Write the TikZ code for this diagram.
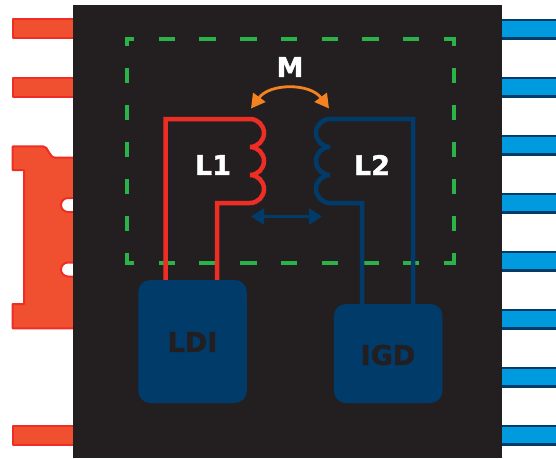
\documentclass[tikz,border=0pt]{standalone}
\usepackage{fontspec}
\setmainfont[BoldFeatures={FakeBold=1.5}]{DejaVu Sans}
\usetikzlibrary{arrows.meta}
\definecolor{bodyc}{HTML}{231F20}
\definecolor{redf}{HTML}{F15030}
\definecolor{redl}{HTML}{EE2E24}
\definecolor{bluef}{HTML}{009ADE}
\definecolor{navy}{HTML}{003B6A}
\definecolor{greenc}{HTML}{2BB34A}
\definecolor{orangec}{HTML}{F58220}
\tikzset{
  leftlead/.style={fill=redf,draw=redl,line width=2pt,line join=round},
  chipbox/.style={fill=navy,rounded corners=12pt,minimum width=108.5pt,inner sep=0pt},
  chiplabel/.style={inner sep=0pt,text=bodyc,font=\bfseries\fontsize{27}{27}\selectfont},
  coillabel/.style={text=white,inner sep=0pt,font=\bfseries\fontsize{27}{27}\selectfont},
  hdash/.style={draw=greenc,line width=4pt,dash pattern=on 16.4pt off 24.3pt,dash phase=7pt},
  vdash/.style={draw=greenc,line width=4pt,dash pattern=on 14.8pt off 22.2pt,dash phase=6pt},
  redwire/.style={draw=redl,line width=4.5pt,line join=miter,miter limit=2},
  navywire/.style={draw=navy,line width=4.5pt,line join=miter,miter limit=2},
  navyarrow/.style={draw=navy,line width=2.5pt,{Triangle[length=13pt,width=16pt]}-{Triangle[length=13pt,width=16pt]}},
  orangearrow/.style={draw=orangec,line width=2.8pt,{Triangle[length=14pt,width=15pt]}-{Triangle[length=14pt,width=15pt]}},
}
\begin{document}
\begin{tikzpicture}[x=1pt,y=-1pt]
\useasboundingbox (0,0) rectangle (556,458);
% left leads
\foreach \y in {19.3,77.7,425.5}{
  \draw[leftlead] (12.7,\y) rectangle (75,\y+19);
}
\draw[leftlead] (12.7,146.3) -- (43,146.3) .. controls (49,146.3) and (48,157.7) .. (56,157.7) -- (75,157.7)
  -- (75,198) -- (68,198) .. controls (64.1,198) and (61,201.1) .. (61,205) .. controls (61,208.9) and (64.1,212) .. (68,212) -- (75,212)
  -- (75,262.5) -- (68,262.5) .. controls (64.1,262.5) and (61,265.6) .. (61,269.5) .. controls (61,273.4) and (64.1,276.5) .. (68,276.5) -- (75,276.5)
  -- (75,328.3) -- (12.7,328.3) -- (12.7,304) -- (24,304) -- (24,170) -- (12.7,170) -- cycle;
% right leads
\foreach \y in {18.5,76.5,134.5,192.5,250.5,308.5,366.5,424.5}{
  \fill[bluef] (500,\y) rectangle (556,\y+21);
  \fill[navy] (500,\y) rectangle (556,\y+2.8);
  \fill[navy] (500,\y+18.2) rectangle (556,\y+21);
}
% package
\fill[bodyc] (73,5) rectangle (502,458);
% dashed frame
\draw[hdash] (125,38.5) -- (455.5,38.5);
\draw[hdash] (125,262.5) -- (455.5,262.5);
\draw[vdash] (127,37) -- (127,264.5);
\draw[vdash] (453.5,37) -- (453.5,264.5);
% chips
\node[chipbox,minimum height=123pt] (ldi) at (192.5,341.5) {};
\node[chipbox,minimum height=99pt] (igd) at (388.2,353.5) {};
\node[chiplabel] (ldit) at (192.5,342) {LDI};
\node[chiplabel] (igdt) at (388,355) {IGD};
% named wire points
\coordinate (r1) at (165.5,119);
\coordinate (r2) at (217,203);
\coordinate (n1) at (413,119);
\coordinate (n2) at (362,203);
% L1
\draw[redwire] (r1 |- ldi.north) -- (r1) -- (250,119)
  .. controls (257.7,119) and (264,125.3) .. (264,133) .. controls (264,140.7) and (257.7,147) .. (250,147)
  .. controls (257.7,147) and (264,153.3) .. (264,161) .. controls (264,168.7) and (257.7,175) .. (250,175)
  .. controls (257.7,175) and (264,181.3) .. (264,189) .. controls (264,196.7) and (257.7,203) .. (250,203)
  -- (r2) -- (r2 |- ldi.north);
% L2
\draw[navywire] (n1 |- igd.north) -- (n1) -- (330,119)
  .. controls (322.3,119) and (316,125.3) .. (316,133) .. controls (316,140.7) and (322.3,147) .. (330,147)
  .. controls (322.3,147) and (316,153.3) .. (316,161) .. controls (316,168.7) and (322.3,175) .. (330,175)
  .. controls (322.3,175) and (316,181.3) .. (316,189) .. controls (316,196.7) and (322.3,203) .. (330,203)
  -- (n2) -- (n2 |- igd.north);
% labels
\node[coillabel] (l1) at (213,165) {L1};
\node[coillabel] (l2) at (372,165) {L2};
\node[coillabel] (m) at (290,67) {M};
% arrows
\coordinate (al) at (251,108.5);
\coordinate (ar) at (329,108.5);
\draw[orangearrow] (al) .. controls (270,83) and (310,83) .. (ar);
\coordinate (bl) at (251,216.5);
\coordinate (br) at (322,216.5);
\draw[navyarrow] (bl) -- (br);
\end{tikzpicture}
\end{document}
